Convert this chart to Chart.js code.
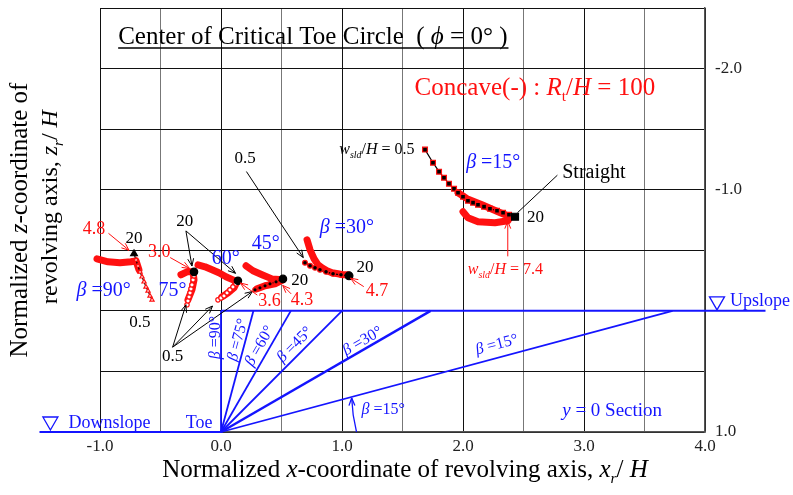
<!DOCTYPE html>
<html>
<head>
<meta charset="utf-8">
<script src="https://cdn.jsdelivr.net/npm/chart.js@4.4.0/dist/chart.umd.min.js"></script>
<style>
  html, body { margin: 0; padding: 0; background: #fff; }
  canvas { display: block; }
</style>
</head>
<body>
<canvas id="chart" width="793" height="495"></canvas>
<script>
  // Slope faces: from the toe (0, 1) up to the crest at x = cot(beta)
  const slopeAngles = [90, 75, 60, 45, 30, 15];
  const slopeCrestX = [0, 0.268, 0.577, 1.0, 1.732, 3.732];

  // Ground surfaces above and below the slope
  const upslopeX = [0, 4.5];
  const upslopeZ = [0, 0];
  const downslopeX = [-1.5, 0];
  const downslopeZ = [1, 1];

  // Straight slopes: centre of the critical toe circle, w_sld/H = 0.5 ... 20
  const b90StraightX = [-0.570, -0.587, -0.603, -0.620, -0.636, -0.653, -0.669, -0.686, -0.702, -0.719];
  const b90StraightZ = [-0.091, -0.124, -0.165, -0.198, -0.240, -0.281, -0.322, -0.372, -0.421, -0.471];
  const b75StraightX = [-0.281, -0.273, -0.264, -0.256, -0.248, -0.240, -0.231, -0.223, -0.223];
  const b75StraightZ = [-0.050, -0.083, -0.116, -0.149, -0.182, -0.215, -0.256, -0.289, -0.322];
  const b60StraightX = [-0.025, 0.000, 0.025, 0.050, 0.074, 0.099, 0.124, 0.140];
  const b60StraightZ = [-0.091, -0.107, -0.124, -0.149, -0.174, -0.198, -0.223, -0.248];
  const b45StraightX = [0.281, 0.322, 0.364, 0.405, 0.455, 0.512];
  const b45StraightZ = [-0.174, -0.190, -0.207, -0.223, -0.240, -0.264];
  const b30StraightX = [0.694, 0.736, 0.777, 0.818, 0.868, 0.926, 0.992, 1.058];
  const b30StraightZ = [-0.397, -0.372, -0.355, -0.339, -0.322, -0.306, -0.298, -0.289];
  const b15StraightX = [1.686, 1.752, 1.802, 1.843, 1.884, 1.926, 1.959, 2.000, 2.041, 2.083, 2.124, 2.174, 2.223, 2.281, 2.331, 2.380, 2.430];
  const b15StraightZ = [-1.331, -1.223, -1.149, -1.099, -1.050, -1.008, -0.975, -0.942, -0.909, -0.893, -0.876, -0.860, -0.843, -0.826, -0.810, -0.793, -0.777];

  // Concave slopes, R_t/H = 100
  const b90ConcaveX = [-0.678, -0.702, -0.744, -0.835, -0.934, -1.025];
  const b90ConcaveZ = [-0.339, -0.413, -0.405, -0.397, -0.405, -0.430];
  const b75ConcaveX = [-0.331, -0.281, -0.231, -0.223, -0.240, -0.273];
  const b75ConcaveZ = [-0.298, -0.322, -0.322, -0.256, -0.174, -0.091];
  const b60ConcaveX = [-0.190, -0.132, -0.074, -0.017, 0.041, 0.099, 0.132, 0.107, 0.058, 0.008];
  const b60ConcaveZ = [-0.380, -0.364, -0.339, -0.314, -0.281, -0.256, -0.240, -0.190, -0.149, -0.116];
  const b45ConcaveX = [0.207, 0.264, 0.339, 0.421, 0.512, 0.446, 0.364, 0.298];
  const b45ConcaveZ = [-0.372, -0.331, -0.298, -0.264, -0.256, -0.223, -0.207, -0.182];
  const b30ConcaveX = [0.711, 0.736, 0.769, 0.802, 0.835, 0.876, 0.917, 0.967, 1.008, 1.050];
  const b30ConcaveZ = [-0.587, -0.504, -0.430, -0.380, -0.355, -0.331, -0.314, -0.306, -0.298, -0.298];
  const b15ConcaveX = [1.959, 2.033, 2.157, 2.289, 2.388, 2.372, 2.264, 2.124, 2.041, 2.000];
  const b15ConcaveZ = [-0.975, -0.926, -0.876, -0.818, -0.777, -0.744, -0.727, -0.736, -0.769, -0.818];

  const SERIF = '"Liberation Serif", "Times New Roman", serif';
  const BLUE = '#1414ff';
  const RED = '#ff1010';

  function pts(xs, zs) {
    return xs.map((x, i) => ({ x: x, y: zs[i] }));
  }

  function fontOf(size, italic) {
    return (italic ? 'italic ' : '') + size + 'px ' + SERIF;
  }

  // Draw a run of text pieces: {t, i: italic, s: subscript}
  function drawRich(ctx, parts, x, y, size, color, align) {
    ctx.save();
    ctx.fillStyle = color;
    ctx.textBaseline = 'middle';
    ctx.textAlign = 'left';
    let w = 0;
    parts.forEach(p => {
      ctx.font = fontOf(p.s ? size * 0.62 : size, p.i);
      w += ctx.measureText(p.t).width;
    });
    let cx = align === 'center' ? x - w / 2 : align === 'right' ? x - w : x;
    const start = cx;
    parts.forEach(p => {
      ctx.font = fontOf(p.s ? size * 0.62 : size, p.i);
      ctx.fillText(p.t, cx, y + (p.s ? size * 0.35 : 0));
      cx += ctx.measureText(p.t).width;
    });
    ctx.restore();
    return { left: start, right: cx };
  }

  function arrowHead(ctx, x1, y1, x2, y2, color) {
    const a = Math.atan2(y2 - y1, x2 - x1);
    const len = 8, half = 0.38;
    ctx.beginPath();
    ctx.moveTo(x2, y2);
    ctx.lineTo(x2 - len * Math.cos(a - half), y2 - len * Math.sin(a - half));
    ctx.moveTo(x2, y2);
    ctx.lineTo(x2 - len * Math.cos(a + half), y2 - len * Math.sin(a + half));
    ctx.strokeStyle = color;
    ctx.stroke();
  }

  const beta = deg => [{ t: 'β', i: true }, { t: ' =' + deg + '°' }];

  const annotations = {
    id: 'annotations',
    afterDatasetsDraw(chart) {
      const ctx = chart.ctx;
      const sx = chart.scales.x, sy = chart.scales.y;
      const X = v => sx.getPixelForValue(v);
      const Y = v => sy.getPixelForValue(v);

      // title, underlined
      const t = drawRich(ctx, [
        { t: 'Center of Critical Toe Circle  ( ' }, { t: 'ϕ', i: true }, { t: ' = 0° )' }
      ], X(-0.85), Y(-2.26), 25, '#000', 'left');
      ctx.save();
      ctx.strokeStyle = '#000';
      ctx.lineWidth = 1.5;
      ctx.beginPath();
      ctx.moveTo(t.left, Y(-2.26) + 11);
      ctx.lineTo(t.right + 1, Y(-2.26) + 11);
      ctx.stroke();
      ctx.restore();

      drawRich(ctx, [
        { t: 'Concave(-) : ' }, { t: 'R', i: true }, { t: 't', s: true }, { t: '/' }, { t: 'H', i: true }, { t: ' = 100' }
      ], X(1.60), Y(-1.84), 25, RED, 'left');

      // arrows and leaders
      ctx.save();
      ctx.lineWidth = 1;
      const blackArrows = [
        [-0.29, -0.66, -0.24, -0.37], [-0.29, -0.66, 0.12, -0.31], [0.21, -1.15, 0.68, -0.44],
        [-0.40, 0.30, -0.29, -0.05], [-0.40, 0.30, -0.07, -0.04], [-0.40, 0.30, 0.26, -0.16]
      ];
      blackArrows.forEach(a => {
        ctx.strokeStyle = '#000';
        ctx.beginPath();
        ctx.moveTo(X(a[0]), Y(a[1]));
        ctx.lineTo(X(a[2]), Y(a[3]));
        ctx.stroke();
        arrowHead(ctx, X(a[0]), Y(a[1]), X(a[2]), Y(a[3]), '#000');
      });
      const redArrows = [
        [-0.93, -0.64, -0.76, -0.50], [-0.42, -0.44, -0.26, -0.35], [0.30, -0.13, 0.16, -0.23],
        [0.58, -0.14, 0.51, -0.21], [1.18, -0.20, 1.07, -0.27], [2.37, -0.45, 2.37, -0.74]
      ];
      redArrows.forEach(a => {
        ctx.strokeStyle = RED;
        ctx.beginPath();
        ctx.moveTo(X(a[0]), Y(a[1]));
        ctx.lineTo(X(a[2]), Y(a[3]));
        ctx.stroke();
        arrowHead(ctx, X(a[0]), Y(a[1]), X(a[2]), Y(a[3]), RED);
      });
      // leader to "Straight"
      ctx.strokeStyle = '#000';
      ctx.beginPath();
      ctx.moveTo(X(2.45), Y(-0.81));
      ctx.lineTo(X(2.78), Y(-1.12));
      ctx.stroke();
      // curved arrow onto the 15 degree face
      ctx.strokeStyle = BLUE;
      ctx.lineWidth = 1.3;
      ctx.beginPath();
      ctx.moveTo(X(1.12), Y(1.0));
      ctx.quadraticCurveTo(X(1.085), Y(0.86), X(1.08), Y(0.72));
      ctx.stroke();
      arrowHead(ctx, X(1.082), Y(0.78), X(1.08), Y(0.72), BLUE);
      ctx.restore();

      // w_sld/H annotations
      const wsld = v => [{ t: 'w', i: true }, { t: 'sld', i: true, s: true }, { t: '/' }, { t: 'H', i: true }, { t: ' = ' + v }];
      drawRich(ctx, wsld('0.5'), X(1.60), Y(-1.33), 16, '#000', 'right');
      drawRich(ctx, wsld('7.4'), X(2.35), Y(-0.34), 16, RED, 'center');

      // numeric tags
      const blackTags = [
        ['20', -0.72, -0.60], ['20', -0.30, -0.74], ['20', 0.65, -0.25], ['20', 1.19, -0.36], ['20', 2.60, -0.77],
        ['0.5', 0.20, -1.26], ['0.5', -0.67, 0.10], ['0.5', -0.40, 0.38]
      ];
      blackTags.forEach(s => drawRich(ctx, [{ t: s[0] }], X(s[1]), Y(s[2]), 17, '#000', 'center'));
      const redTags = [['4.8', -1.05, -0.67], ['3.0', -0.51, -0.48], ['3.6', 0.40, -0.08], ['4.3', 0.67, -0.09], ['4.7', 1.29, -0.16]];
      redTags.forEach(s => drawRich(ctx, [{ t: s[0] }], X(s[1]), Y(s[2]), 18, RED, 'center'));
      drawRich(ctx, [{ t: 'Straight' }], X(2.82), Y(-1.14), 20, '#000', 'left');

      // slope angle labels beside each locus
      drawRich(ctx, beta(90), X(-0.97), Y(-0.17), 20, BLUE, 'center');
      drawRich(ctx, [{ t: '75°' }], X(-0.40), Y(-0.17), 20, BLUE, 'center');
      drawRich(ctx, [{ t: '60°' }], X(0.04), Y(-0.43), 20, BLUE, 'center');
      drawRich(ctx, [{ t: '45°' }], X(0.37), Y(-0.55), 20, BLUE, 'center');
      drawRich(ctx, beta(30), X(1.04), Y(-0.69), 20, BLUE, 'center');
      drawRich(ctx, beta(15), X(2.25), Y(-1.22), 20, BLUE, 'center');

      // labels along the slope faces
      const faceLabels = [[90, -0.04, 0.22], [75, 0.14, 0.24], [60, 0.32, 0.29], [45, 0.61, 0.28], [30, 1.17, 0.25], [15, 2.28, 0.28]];
      faceLabels.forEach(f => {
        ctx.save();
        ctx.translate(X(f[1]), Y(f[2]));
        ctx.rotate(-f[0] * Math.PI / 180);
        drawRich(ctx, beta(f[0]), 0, 0, 16, BLUE, 'center');
        ctx.restore();
      });
      drawRich(ctx, beta(15), X(1.34), Y(0.82), 16, BLUE, 'center');

      // surface labels
      const tri = (cx, top) => {
        ctx.save();
        ctx.strokeStyle = BLUE;
        ctx.lineWidth = 1.3;
        ctx.beginPath();
        ctx.moveTo(cx - 7.5, top);
        ctx.lineTo(cx + 7.5, top);
        ctx.lineTo(cx, top + 13);
        ctx.closePath();
        ctx.stroke();
        ctx.restore();
      };
      tri(X(-1.41), Y(1.0) - 15);
      drawRich(ctx, [{ t: 'Downslope' }], X(-1.26), Y(1.0) - 9, 18, BLUE, 'left');
      drawRich(ctx, [{ t: 'Toe' }], X(-0.18), Y(1.0) - 9, 18, BLUE, 'center');
      tri(X(4.0) + 12, Y(0) - 14);
      drawRich(ctx, [{ t: 'Upslope' }], X(4.0) + 25, Y(0) - 10, 18, BLUE, 'left');
      drawRich(ctx, [{ t: 'y', i: true }, { t: ' = 0 Section' }], X(2.82), Y(0.83), 19, BLUE, 'left');

      // axis titles
      drawRich(ctx, [
        { t: 'Normalized ' }, { t: 'x', i: true }, { t: '-coordinate of revolving axis, ' },
        { t: 'x', i: true }, { t: 'r', i: true, s: true }, { t: '/ ' }, { t: 'H', i: true }
      ], 405, 470, 25, '#000', 'center');
      ctx.save();
      ctx.translate(20, 220);
      ctx.rotate(-Math.PI / 2);
      drawRich(ctx, [{ t: 'Normalized ' }, { t: 'z', i: true }, { t: '-coordinate of' }], 0, 0, 25, '#000', 'center');
      ctx.restore();
      ctx.save();
      ctx.translate(51, 207);
      ctx.rotate(-Math.PI / 2);
      drawRich(ctx, [{ t: 'revolving axis, ' }, { t: 'z', i: true }, { t: 'r', i: true, s: true }, { t: '/ ' }, { t: 'H', i: true }], 0, 0, 24, '#000', 'center');
      ctx.restore();
    }
  };

  const blueLine = (xs, zs, w) => ({
    data: pts(xs, zs), showLine: true, borderColor: BLUE, borderWidth: w || 2,
    pointRadius: 0, clip: false
  });

  const straight = (xs, zs, style, fill, r) => ({
    data: pts(xs, zs), showLine: true, borderColor: '#000', borderWidth: 1.2,
    pointStyle: style,
    pointRadius: c => c.dataIndex === xs.length - 1 ? r + 1.5 : r,
    pointBorderColor: c => c.dataIndex === xs.length - 1 ? '#000' : RED,
    pointBackgroundColor: c => c.dataIndex === xs.length - 1 ? '#000' : fill,
    pointBorderWidth: 1.2, clip: false
  });

  const concave = (xs, zs) => ({
    data: pts(xs, zs), showLine: true, borderColor: RED, borderWidth: 7,
    borderCapStyle: 'round', borderJoinStyle: 'round', pointRadius: 0, clip: false
  });

  const datasets = [
    straight(b15StraightX, b15StraightZ, 'rect', '#000', 3.4),
    straight(b30StraightX, b30StraightZ, 'circle', '#000', 2.4),
    straight(b45StraightX, b45StraightZ, 'circle', '#000', 2.2),
    straight(b60StraightX, b60StraightZ, 'circle', '#fff', 2.2),
    straight(b75StraightX, b75StraightZ, 'circle', '#fff', 2.2),
    straight(b90StraightX, b90StraightZ, 'triangle', '#fff', 2.4),
    concave(b15ConcaveX, b15ConcaveZ),
    concave(b30ConcaveX, b30ConcaveZ),
    concave(b45ConcaveX, b45ConcaveZ),
    concave(b60ConcaveX, b60ConcaveZ),
    concave(b75ConcaveX, b75ConcaveZ),
    concave(b90ConcaveX, b90ConcaveZ),
    blueLine(upslopeX, upslopeZ),
    blueLine(downslopeX, downslopeZ)
  ];
  slopeAngles.forEach((b, i) => datasets.push(blueLine([0, slopeCrestX[i]], [1, 0], b === 30 ? 2.4 : 1.8)));

  new Chart(document.getElementById('chart'), {
    type: 'scatter',
    data: { datasets: datasets },
    options: {
      responsive: false,
      animation: false,
      layout: { padding: { left: 100, top: 8, right: 0, bottom: 0 } },
      plugins: { legend: { display: false }, tooltip: { enabled: false } },
      scales: {
        x: {
          type: 'linear', position: 'bottom', min: -1, max: 4,
          ticks: {
            stepSize: 0.5, padding: 4, color: '#222', font: { family: SERIF, size: 17 },
            maxRotation: 0, autoSkip: false,
            callback: v => Number.isInteger(v) ? v.toFixed(1) : ''
          },
          grid: {
            drawTicks: false, lineWidth: 1,
            color: c => Number.isInteger(c.tick.value) ? '#111' : '#777'
          },
          border: { color: '#555', width: 1.5 },
          afterFit: s => { s.height = 63; s.paddingLeft = 0; s.paddingRight = 0; }
        },
        y: {
          type: 'linear', position: 'right', min: -2.5, max: 1, reverse: true,
          ticks: {
            stepSize: 0.5, padding: 10, color: '#222', font: { family: SERIF, size: 17 },
            autoSkip: false,
            callback: v => (v === -2 || v === -1 || v === 1) ? v.toFixed(1) : ''
          },
          grid: { drawTicks: false, lineWidth: 1, color: '#111' },
          border: { color: '#555', width: 1.5 },
          afterFit: s => { s.width = 88; s.paddingTop = 0; s.paddingBottom = 0; }
        }
      }
    },
    plugins: [annotations]
  });
</script>
</body>
</html>
